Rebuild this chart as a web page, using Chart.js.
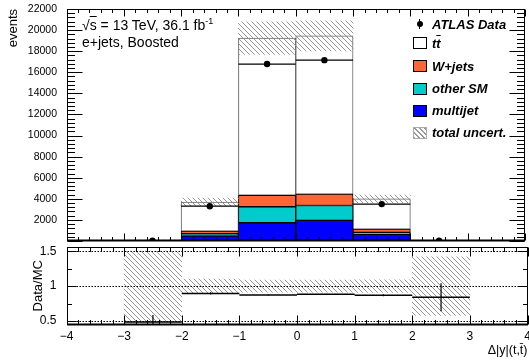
<!DOCTYPE html>
<html>
<head>
<meta charset="utf-8">
<script src="https://cdn.jsdelivr.net/npm/chart.js@4.4.1/dist/chart.umd.min.js"></script>
<style>
  body { margin: 0; width: 529px; height: 361px; background: #fff; position: relative; overflow: hidden;
         font-family: "Liberation Sans", Arial, sans-serif; }
  canvas { position: absolute; left: 0; }
  #main { top: 0; }
  #ratio { top: 245px; }
  .txt { position: absolute; white-space: nowrap; color: #000; line-height: 1; }
  .leg { position: absolute; left: 432px; font-size: 13px; font-weight: bold; font-style: italic; line-height: 13px; white-space: nowrap; }
  .box { position: absolute; left: 413px; width: 14px; height: 12px; box-sizing: border-box; border: 1px solid #000; }
</style>
</head>
<body>
<canvas id="main" width="529" height="245"></canvas>
<canvas id="ratio" width="529" height="116"></canvas>

<div class="txt" style="left:82px;top:17px;font-size:14px">√<span style="text-decoration:overline">s</span> = 13 TeV, 36.1 fb<span style="font-size:9px;vertical-align:6px">-1</span></div>
<div class="txt" style="left:82px;top:35px;font-size:14px">e+jets, Boosted</div>

<!-- legend -->
<div style="position:absolute;left:419px;top:19px;width:1px;height:10px;background:#000"></div>
<div style="position:absolute;left:416.5px;top:21px;width:6px;height:6px;border-radius:3px;background:#000"></div>
<div class="leg" style="top:17.5px">ATLAS Data</div>
<div class="box" style="top:37px;background:#fff"></div>
<div class="leg" style="top:36.5px">t<span style="text-decoration:overline">t</span></div>
<div class="box" style="top:60px;background:#ff6633"></div>
<div class="leg" style="top:59.5px">W+jets</div>
<div class="box" style="top:83px;background:#00cccc"></div>
<div class="leg" style="top:82px">other SM</div>
<div class="box" style="top:104.5px;background:#0000ff"></div>
<div class="leg" style="top:104px">multijet</div>
<div class="box" style="top:127px;border-color:#aaa;background:repeating-linear-gradient(45deg,#999 0 1px,#fff 1px 3.5px)"></div>
<div class="leg" style="top:126px">total uncert.</div>

<script>
// Bins of Δ|y|(t,tbar)
const binLow = [-3, -2, -1, 0, 1, 2];
const binHigh = [-2, -1, 0, 1, 2, 3];
const binCenters = [-2.5, -1.5, -0.5, 0.5, 1.5, 2.5];

// Main panel: events
const dataEvents = [25, 3300, 16780, 17150, 3500, 17];
const dataErr = [5, 57, 130, 131, 59, 4];
const multijet = [20, 460, 1730, 1950, 640, 8];
const otherSM = [8, 230, 1515, 1420, 180, 3];
const wjets = [10, 245, 1095, 1070, 300, 4];
const ttbar = [13, 2755, 14895, 15010, 2880, 5];
const mcUnc = [26, 370, 1550, 1420, 360, 8];

// Ratio panel: Data/MC
const ratio = [0.485, 0.895, 0.872, 0.882, 0.87, 0.84];
const ratioErr = [0.1, 0.016, 0.007, 0.007, 0.015, 0.2];
const ratioUnc = [0.5, 0.1, 0.087, 0.087, 0.09, 0.42];

// Ticks
const xTicks = [-4, -3, -2, -1, 0, 1, 2, 3, 4];
const mainYTicks = [2000, 4000, 6000, 8000, 10000, 12000, 14000, 16000, 18000, 20000, 22000];
const ratioYTicks = [0.5, 1, 1.5];
const ratioYMinor = [0.75, 1.25];
const ratioRefLines = [0.5, 1, 1.5];

Chart.defaults.font.family = '"Liberation Sans", Arial, sans-serif';
Chart.defaults.color = '#000';

function makeHatch(color) {
  const c = document.createElement('canvas');
  c.width = 5; c.height = 5;
  const g = c.getContext('2d');
  g.strokeStyle = color;
  g.lineWidth = 0.9;
  g.beginPath();
  g.moveTo(-1, -1); g.lineTo(6, 6);
  g.moveTo(-1, 4); g.lineTo(1, 6);
  g.moveTo(4, -1); g.lineTo(6, 1);
  g.stroke();
  return g.createPattern(c, 'repeat');
}
const hatch = makeHatch('#8a8a8a');

// stack the MC components into floating bars
const layers = [
  { vals: multijet, color: '#0000ff', border: '#000' },
  { vals: otherSM, color: '#00cccc', border: '#000' },
  { vals: wjets, color: '#ff6633', border: '#000' },
  { vals: ttbar, color: '#ffffff', border: '#666' }
];
let base = binCenters.map(() => 0);
const stackSets = layers.map((l) => {
  const lo = base.slice();
  base = base.map((b, i) => b + l.vals[i]);
  return {
    type: 'bar', order: 10, grouped: false, categoryPercentage: 1, barPercentage: 1,
    borderSkipped: false, borderWidth: 1, borderColor: l.border, backgroundColor: l.color,
    data: binCenters.map((x, i) => ({ x: x, y: [lo[i], base[i]] }))
  };
});
const mcTotal = base;

// helpers to build broken line segments
function hSegs(vals) {
  const pts = [];
  binCenters.forEach((c, i) => {
    pts.push({ x: binLow[i], y: vals[i] }, { x: binHigh[i], y: vals[i] }, { x: binHigh[i], y: null });
  });
  return pts;
}
function vSegs(vals, errs) {
  const pts = [];
  binCenters.forEach((c, i) => {
    pts.push({ x: c, y: vals[i] - errs[i] }, { x: c, y: vals[i] + errs[i] }, { x: c, y: null });
  });
  return pts;
}
function lineSet(pts, width) {
  return { type: 'line', order: 1, data: pts, borderColor: '#000', borderWidth: width,
           pointRadius: 0, spanGaps: false, tension: 0 };
}

// ROOT-like frame with inside ticks
const rootAxes = {
  id: 'rootAxes',
  afterDatasetsDraw(chart, args, o) {
    const { ctx, chartArea: a, scales: { x, y } } = chart;
    const L = Math.round(a.left) + 0.5, R = Math.round(a.right) - 0.5;
    const T = Math.round(a.top) + 0.5, B = Math.round(a.bottom) - 0.5;
    ctx.save();
    ctx.strokeStyle = '#000';
    ctx.lineWidth = 1;
    const seg = (x1, y1, x2, y2) => { ctx.beginPath(); ctx.moveTo(x1, y1); ctx.lineTo(x2, y2); ctx.stroke(); };
    // dotted reference lines
    ctx.setLineDash([1.5, 1.5]);
    (o.refLines || []).forEach((v) => {
      const py = Math.round(y.getPixelForValue(v)) + 0.5;
      seg(L, py, R, py);
    });
    ctx.setLineDash([]);
    // x ticks
    const nx = Math.round((x.max - x.min) / o.xMinorStep);
    for (let k = 0; k <= nx; k++) {
      const v = x.min + k * o.xMinorStep;
      const major = Math.abs(v - Math.round(v)) < 1e-6;
      const len = major ? o.xMajorLen : o.xMinorLen;
      const px = Math.round(x.getPixelForValue(v)) + 0.5;
      seg(px, B, px, B - len);
      seg(px, T, px, T + len);
    }
    // y ticks
    const ydraw = (v, len) => {
      const py = Math.round(y.getPixelForValue(v)) + 0.5;
      seg(L, py, L + len, py);
      seg(R, py, R - len, py);
    };
    o.yMajor.forEach((v) => ydraw(v, o.yMajorLen));
    o.yMinor.forEach((v) => ydraw(v, o.yMinorLen));
    // frame
    ctx.strokeRect(L, T, R - L, B - T);
    ctx.lineWidth = 2;
    seg(L - 0.5, B, R + 0.5, B);
    ctx.restore();
  }
};

const mainMinor = [];
for (let v = 0; v <= 22000; v += 400) if (v % 2000 !== 0) mainMinor.push(v);

const axisFitY = (w) => (s) => { s.width = w; s.paddingTop = 0; s.paddingBottom = 0; };

new Chart(document.getElementById('main'), {
  type: 'bar',
  data: {
    datasets: [
      ...stackSets,
      { type: 'bar', order: 5, grouped: false, categoryPercentage: 1, barPercentage: 1, borderWidth: 0,
        backgroundColor: hatch,
        data: binCenters.map((x, i) => ({ x: x, y: [mcTotal[i] - mcUnc[i], mcTotal[i] + mcUnc[i]] })) },
      lineSet(hSegs(dataEvents), 1.2),
      lineSet(vSegs(dataEvents, dataErr), 1.2),
      { type: 'line', order: 0, showLine: false, pointRadius: 3.2, pointBackgroundColor: '#000',
        pointBorderWidth: 0, data: binCenters.map((x, i) => ({ x: x, y: dataEvents[i] })) }
    ]
  },
  options: {
    responsive: false, animation: false, events: [],
    layout: { padding: { top: 9, right: 1.5, bottom: 3, left: 0 } },
    plugins: {
      legend: { display: false }, tooltip: { enabled: false },
      rootAxes: { xMinorStep: 0.2, xMajorLen: 7, xMinorLen: 3.5,
                  yMajor: [0].concat(mainYTicks), yMinor: mainMinor, yMajorLen: 15, yMinorLen: 7.5 }
    },
    scales: {
      x: { type: 'linear', min: -4, max: 4, offset: false, display: false,
           afterBuildTicks: (s) => { s.ticks = xTicks.map((v) => ({ value: v })); } },
      y: { min: 0, max: 22000, grid: { display: false }, border: { display: false },
           ticks: { font: { size: 10.5 }, padding: 1.5, callback: (v) => String(v) },
           afterBuildTicks: (s) => { s.ticks = mainYTicks.map((v) => ({ value: v })); },
           afterFit: axisFitY(66.5),
           title: { display: true, text: 'events', align: 'end', font: { size: 13 }, padding: { top: 6, bottom: 0 } } }
    }
  },
  plugins: [rootAxes]
});

new Chart(document.getElementById('ratio'), {
  type: 'bar',
  data: {
    datasets: [
      { type: 'bar', order: 5, grouped: false, categoryPercentage: 1, barPercentage: 1, borderWidth: 0,
        backgroundColor: hatch,
        data: binCenters.map((x, i) => ({ x: x, y: [1 - ratioUnc[i], 1 + ratioUnc[i]] })) },
      lineSet(hSegs(ratio), 1.5),
      lineSet(vSegs(ratio, ratioErr), 1.2)
    ]
  },
  options: {
    responsive: false, animation: false, events: [],
    layout: { padding: { top: 2, right: 1.5, bottom: 0, left: 0 } },
    plugins: {
      legend: { display: false }, tooltip: { enabled: false },
      rootAxes: { xMinorStep: 0.2, xMajorLen: 9, xMinorLen: 4.5, refLines: ratioRefLines,
                  yMajor: ratioYTicks, yMinor: ratioYMinor, yMajorLen: 9, yMinorLen: 4.5 }
    },
    scales: {
      x: { type: 'linear', min: -4, max: 4, offset: false, grid: { display: false }, border: { display: false },
           ticks: { font: { size: 12 }, padding: -3, maxRotation: 0, autoSkip: false,
                    callback: (v) => String(v).replace('-', '\u2212') },
           afterBuildTicks: (s) => { s.ticks = xTicks.map((v) => ({ value: v })); },
           afterFit: (s) => { s.height = 36.5; s.paddingLeft = 0; s.paddingRight = 0; },
           title: { display: true, text: 'Δ|y|(t,t\u0304)', align: 'end', font: { size: 12.5 }, padding: { top: 0, bottom: 3 } } },
      y: { min: 0.45, max: 1.56, grid: { display: false }, border: { display: false },
           ticks: { font: { size: 12 }, padding: 2, callback: (v) => String(v) },
           afterBuildTicks: (s) => { s.ticks = ratioYTicks.map((v) => ({ value: v })); },
           afterFit: axisFitY(66.5),
           title: { display: true, text: 'Data/MC', align: 'center', font: { size: 13 }, padding: { top: 31, bottom: 0 } } }
    }
  },
  plugins: [rootAxes]
});
</script>
</body>
</html>
